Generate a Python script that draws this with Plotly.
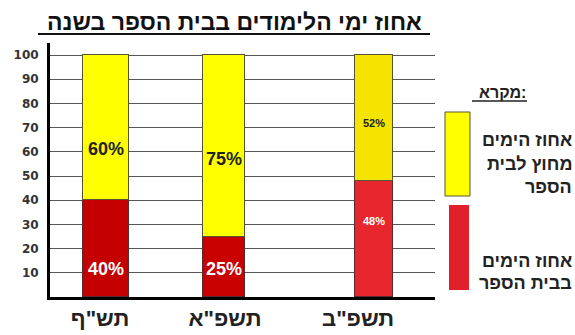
import plotly.graph_objects as go

# ---- data ----
years = ['תש"ף', 'תשפ"א', 'תשפ"ב']
in_school = [40, 25, 48]          # red: days in school
out_school = [60, 75, 52]         # yellow: days outside school
in_labels = ['40%', '25%', '48%']
out_labels = ['60%', '75%', '52%']
y_ticks = [10, 20, 30, 40, 50, 60, 70, 80, 90, 100]
title = 'אחוז ימי הלימודים בבית הספר בשנה'
legend_title = 'מקרא:'
legend_out = ['אחוז הימים', 'מחוץ לבית', 'הספר']
legend_in = ['אחוז הימים', 'בבית הספר']

# ---- layout / style (positions in axis units, x unit = 1px) ----
bar_x = [56, 174, 324]
bar_w = [46, 42, 38]
tick_x = [50, 175, 308]
red_cols = ['#c40000', '#c80000', '#e8262d']
yel_cols = ['#ffff00', '#ffff00', '#f5e400']
out_lab_y = [61, 57, 72]
in_lab_y = [11.5, 11.5, 31.5]
lab_sizes = [18, 18, 11]
HEB = 'Liberation Sans'

L, R, T, B = 50, 140, 43, 38
W, H = 575, 335
pw, ph = W - L - R, H - T - B

def px(xp):
    return (xp - L) / pw

def py(yp):
    return (H - B - yp) / ph

fig = go.Figure()
fig.add_trace(go.Bar(x=bar_x, y=in_school, width=bar_w,
                     marker=dict(color=red_cols, line=dict(color='#5a2a2a', width=1)),
                     hoverinfo='skip'))
fig.add_trace(go.Bar(x=bar_x, y=out_school, width=bar_w,
                     marker=dict(color=yel_cols, line=dict(color='#555533', width=1)),
                     hoverinfo='skip'))

ann = []
for i in range(3):
    ann.append(dict(x=bar_x[i], y=out_lab_y[i], xref='x', yref='y', text='<b>%s</b>' % out_labels[i],
                    showarrow=False, font=dict(size=lab_sizes[i], color='#222', family='Liberation Sans')))
    ann.append(dict(x=bar_x[i], y=in_lab_y[i], xref='x', yref='y', text='<b>%s</b>' % in_labels[i],
                    showarrow=False, font=dict(size=lab_sizes[i], color='white', family='Liberation Sans')))

# title
ann.append(dict(x=px(234), y=py(22), xref='paper', yref='paper', xanchor='center', yanchor='middle',
                text='<b>%s</b>' % title,
                showarrow=False, font=dict(size=23, color='#111', family=HEB)))
# legend
ann.append(dict(x=px(528), y=py(92), xref='paper', yref='paper', xanchor='right', yanchor='middle',
                text='<b>%s</b>' % legend_title, showarrow=False,
                font=dict(size=16, color='#222', family=HEB)))
for j, t in enumerate(legend_out):
    ann.append(dict(x=px(574), y=py([140, 164, 187][j]), xref='paper', yref='paper',
                    xanchor='right', yanchor='middle',
                    text='<b>%s</b>' % t, showarrow=False,
                    font=dict(size=18, color='#222', family=HEB)))
for j, t in enumerate(legend_in):
    ann.append(dict(x=px(574), y=py([261, 283][j]), xref='paper', yref='paper',
                    xanchor='right', yanchor='middle',
                    text='<b>%s</b>' % t, showarrow=False,
                    font=dict(size=18, color='#222', family=HEB)))

shapes = [
    # title underline
    dict(type='line', xref='paper', yref='paper', x0=px(38), x1=px(430), y0=py(34), y1=py(34),
         line=dict(color='#111', width=2)),
    # legend title underline
    dict(type='line', xref='paper', yref='paper', x0=px(472), x1=px(527), y0=py(101), y1=py(101),
         line=dict(color='#222', width=1.5)),
    # legend swatches
    dict(type='rect', xref='paper', yref='paper', x0=px(445), x1=px(470), y0=py(196), y1=py(112),
         fillcolor='#ffff00', line=dict(color='#555533', width=1)),
    dict(type='rect', xref='paper', yref='paper', x0=px(449), x1=px(469), y0=py(290), y1=py(205),
         fillcolor='#e0202a', line=dict(color='#e0202a', width=0)),
]

fig.update_layout(
    barmode='stack', bargap=0, showlegend=False,
    width=W, height=H, margin=dict(l=L, r=R, t=T, b=B),
    paper_bgcolor='white', plot_bgcolor='white',
    annotations=ann, shapes=shapes,
    xaxis=dict(range=[0, pw], tickvals=tick_x, ticktext=['<b>%s</b>' % y for y in years],
               showgrid=False, zeroline=False, showline=True, linecolor='black', linewidth=3,
               automargin=False,
               tickfont=dict(size=22, color='#222', family=HEB), ticks='', fixedrange=True),
    yaxis=dict(range=[0, 105], tickvals=y_ticks, ticktext=['<b>%d</b>' % v for v in y_ticks],
               showgrid=True, gridcolor='#555', gridwidth=1.2, zeroline=False,
               showline=True, linecolor='black', linewidth=3, ticks='',
               ticklabelstandoff=6, automargin=False,
               tickfont=dict(size=12, color='#333', family='DejaVu Sans'), fixedrange=True),
)

fig.write_html('out.html', config={'displayModeBar': False})
